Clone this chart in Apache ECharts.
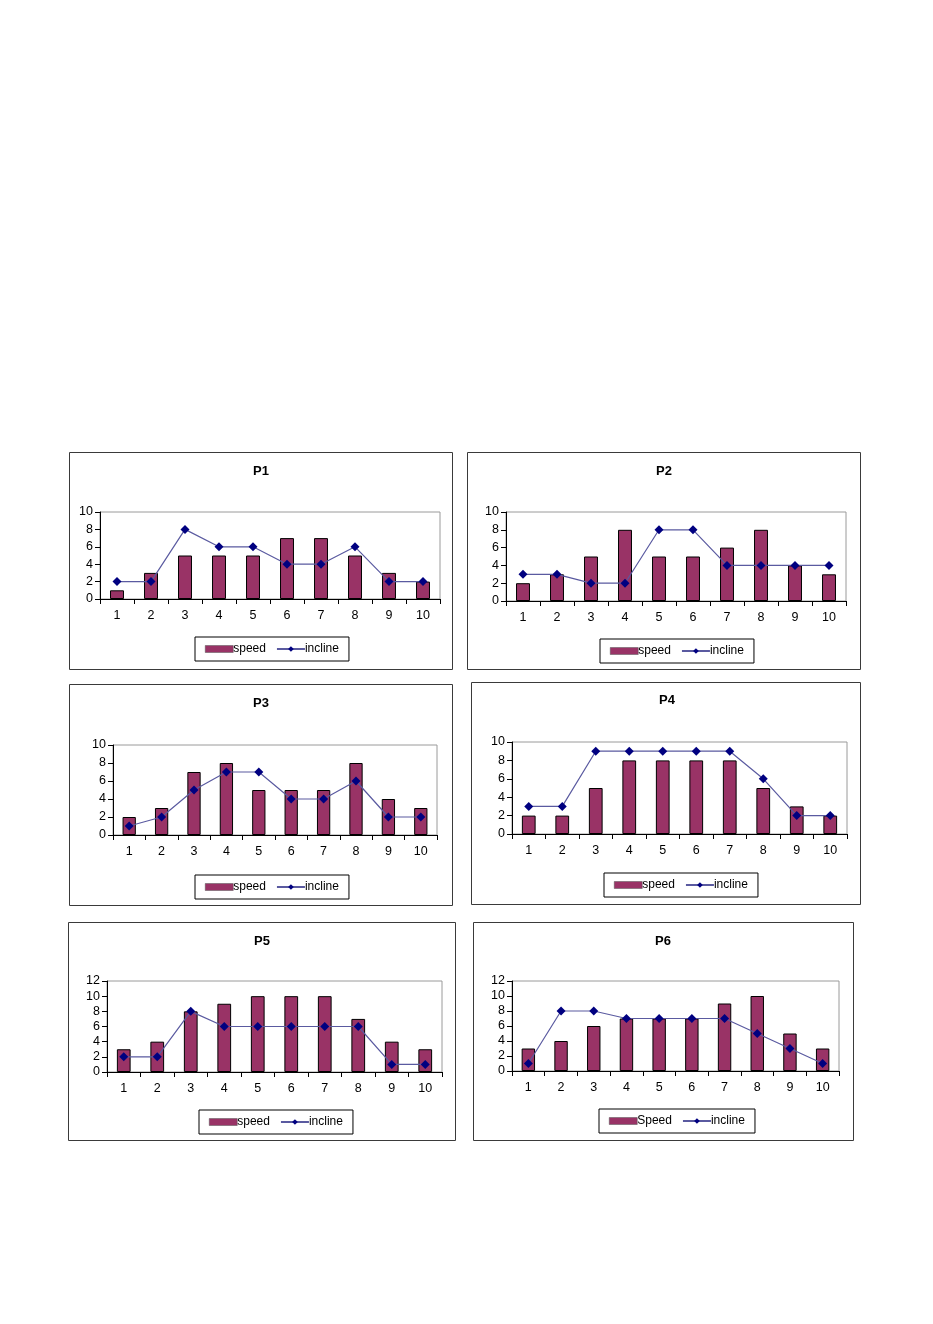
<!DOCTYPE html>
<html><head><meta charset="utf-8">
<script src="https://cdn.jsdelivr.net/npm/echarts@6/dist/echarts.min.js"></script>
<style>html,body{margin:0;padding:0;background:#fff}#c{width:933px;height:1324px}</style>
</head><body><div id="c"></div>
<script>
// ---- data ----
const categories = ['1','2','3','4','5','6','7','8','9','10'];
const titles = ['P1','P2','P3','P4','P5','P6'];
const speedNames = ['speed','speed','speed','speed','speed','Speed'];
const yMax = [10,10,10,10,12,12];
const speedP1 = [1,3,5,5,5,7,7,5,3,2];
const inclineP1 = [2,2,8,6,6,4,4,6,2,2];
const speedP2 = [2,3,5,8,5,5,6,8,4,3];
const inclineP2 = [3,3,2,2,8,8,4,4,4,4];
const speedP3 = [2,3,7,8,5,5,5,8,4,3];
const inclineP3 = [1,2,5,7,7,4,4,6,2,2];
const speedP4 = [2,2,5,8,8,8,8,5,3,2];
const inclineP4 = [3,3,9,9,9,9,9,6,2,2];
const speedP5 = [3,4,8,9,10,10,10,7,4,3];
const inclineP5 = [2,2,8,6,6,6,6,6,1,1];
const speedP6 = [3,4,6,7,7,7,9,10,5,3];
const inclineP6 = [1,8,8,7,7,7,7,5,3,1];
const speeds = [speedP1,speedP2,speedP3,speedP4,speedP5,speedP6];
const inclines = [inclineP1,inclineP2,inclineP3,inclineP4,inclineP5,inclineP6];

// ---- layout (page px) ----
const W = 933, H = 1324;
const boxes = [[69,452,452,669],[467,452,860,669],[69,684,452,905],[471,682,860,904],[68,922,455,1140],[473,922,853,1140]];
const plots = [[100,512,440,599],[506,512,846,601],[113,745,437,835],[512,742,847,834],[107,981,442,1072],[512,981,839,1071]];
const titlePos = [[261,465],[664,465],[261,697],[667,694],[262,935],[663,935]];
const legendPos = [[195,637],[600,639],[195,875],[604,873],[199,1110],[599,1109]];

const font = 'Liberation Sans, Arial, sans-serif';
const option = {
  animation:false,
  textStyle:{fontFamily:font},
  title:[], legend:[], grid:[], xAxis:[], yAxis:[], series:[],
  graphic:[]
};
for (let i=0;i<6;i++){
  const b=boxes[i], p=plots[i];
  option.graphic.push({type:'rect', silent:true, z:-10,
    shape:{x:b[0]+0.5,y:b[1]+0.5,width:b[2]-b[0],height:b[3]-b[1]},
    style:{fill:'#fff',stroke:'#3a3a3a',lineWidth:1}});
  option.title.push({text:titles[i], left:titlePos[i][0], top:titlePos[i][1], textAlign:'center',
    padding:0, textStyle:{fontSize:13,fontWeight:'bold',color:'#000',fontFamily:font}});
  option.grid.push({left:p[0], top:p[1], width:p[2]-p[0], height:p[3]-p[1],
    show:true, borderColor:'#9a9a9a', borderWidth:1, backgroundColor:'#fff', containLabel:false});
  option.xAxis.push({type:'category', gridIndex:i, data:categories, boundaryGap:true,
    axisLine:{lineStyle:{color:'#000',width:1}},
    axisTick:{show:true, alignWithLabel:false, length:5, inside:false, lineStyle:{color:'#000'}},
    axisLabel:{color:'#000', fontSize:12.5, margin:10, fontFamily:font},
    splitLine:{show:false}});
  option.yAxis.push({type:'value', gridIndex:i, min:0, max:yMax[i], interval:2,
    axisLine:{show:true, lineStyle:{color:'#000',width:1}},
    axisTick:{show:true, length:5, lineStyle:{color:'#000'}},
    axisLabel:{color:'#000', fontSize:12.5, margin:7, fontFamily:font},
    splitLine:{show:false}});
  option.legend.push({left:legendPos[i][0], top:legendPos[i][1], orient:'horizontal',
    data:[{name:speedNames[i], icon:'rect', itemStyle:{color:'#993366', borderColor:'#555', borderWidth:0.5}}, {name:'incline'}],
    borderColor:'#000', borderWidth:1, padding:[6,10,6,10], itemGap:10,
    itemWidth:28, itemHeight:7, selectedMode:false,
    textStyle:{color:'#000', fontSize:12, fontFamily:font, padding:[0,0,0,-5]}});
  option.series.push({type:'bar', name:speedNames[i], xAxisIndex:i, yAxisIndex:i, data:speeds[i],
    barWidth:'41%', itemStyle:{color:'#993366', borderColor:'#000', borderWidth:1}});
  option.series.push({type:'line', name:'incline', xAxisIndex:i, yAxisIndex:i, data:inclines[i],
    symbol:'diamond', symbolSize:9, z:5,
    lineStyle:{color:'#5a5aa0', width:1.2},
    itemStyle:{color:'#000080', borderWidth:0}});
}
const chart = echarts.init(document.getElementById('c'), null, {renderer:'canvas', width:W, height:H});
chart.setOption(option);
</script></body></html>
